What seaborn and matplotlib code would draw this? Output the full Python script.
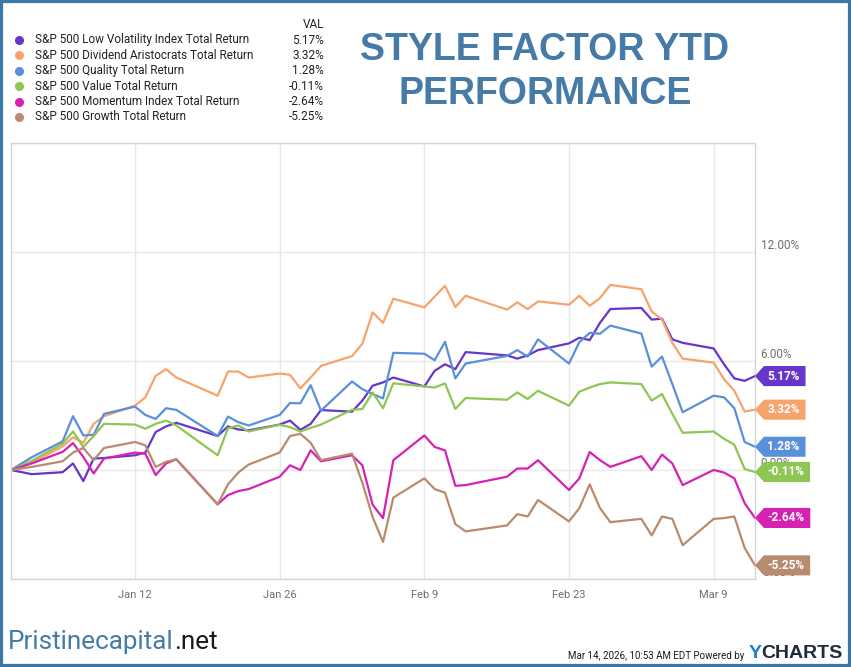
import pandas as pd
import numpy as np
import seaborn as sns
from matplotlib import pyplot as plt
from matplotlib.patches import Rectangle
from matplotlib.lines import Line2D
from matplotlib.path import Path

dates = ['2025-12-31', '2026-01-02', '2026-01-05', '2026-01-06', '2026-01-07', '2026-01-08', '2026-01-09',
         '2026-01-12', '2026-01-13', '2026-01-14', '2026-01-15', '2026-01-16',
         '2026-01-20', '2026-01-21', '2026-01-22', '2026-01-23',
         '2026-01-26', '2026-01-27', '2026-01-28', '2026-01-29', '2026-01-30',
         '2026-02-02', '2026-02-03', '2026-02-04', '2026-02-05', '2026-02-06',
         '2026-02-09', '2026-02-10', '2026-02-11', '2026-02-12', '2026-02-13',
         '2026-02-17', '2026-02-18', '2026-02-19', '2026-02-20',
         '2026-02-23', '2026-02-24', '2026-02-25', '2026-02-26', '2026-02-27',
         '2026-03-02', '2026-03-03', '2026-03-04', '2026-03-05', '2026-03-06',
         '2026-03-09', '2026-03-10', '2026-03-11', '2026-03-12', '2026-03-13']

low_vol = [0, -0.23, -0.12, 0.36, -0.61, 0.63, 0.66,
           0.81, 0.96, 2.09, 2.4, 2.6,
           1.87, 2.4, 2.23, 2.18,
           2.5, 2.72, 2.21, 2.54, 3.3,
           3.21, 3.82, 4.64, 4.82, 5.09,
           4.6, 5.46, 5.82, 5.55, 6.49,
           6.31, 6.13, 6.31, 6.6,
           6.97, 7.28, 7.15, 8.1, 8.86,
           8.92, 8.28, 8.33, 7.19, 7.0,
           6.69, 5.82, 5.04, 4.91, 5.17]

div_aristocrats = [0, 0.4, 1.3, 1.8, 1.5, 2.54, 2.96,
                   3.54, 4.0, 5.18, 5.55, 5.09,
                   4.09, 5.42, 5.42, 5.09,
                   5.31, 5.24, 4.49, 5.09, 5.73,
                   6.27, 6.95, 8.68, 8.1, 9.43,
                   8.95, 9.55, 10.14, 8.97, 9.59,
                   8.83, 9.23, 8.86, 9.28,
                   9.1, 9.59, 9.04, 9.46, 10.19,
                   9.95, 8.73, 8.28, 7.0, 6.13,
                   5.91, 5.0, 4.36, 3.22, 3.32]

quality = [0, 0.7, 1.58, 2.96, 1.9, 1.94, 3.09,
           3.49, 3.03, 2.81, 3.4, 3.31,
           1.87, 2.94, 2.63, 2.45,
           3.03, 3.69, 3.67, 4.67, 3.27,
           4.87, 4.45, 4.18, 3.94, 6.45,
           6.4, 6.04, 7.06, 5.04, 5.86,
           6.28, 6.6, 6.24, 7.19,
           5.86, 7.04, 7.55, 7.5, 7.95,
           7.51, 5.69, 6.24, 4.73, 3.18,
           4.09, 4.0, 3.4, 1.54, 1.28]

value = [0, 0.5, 1.45, 2.12, 1.27, 1.87, 2.54,
         2.5, 2.27, 2.54, 2.72, 2.45,
         0.81, 2.3, 2.45, 2.12,
         2.49, 2.36, 2.12, 2.32, 2.5,
         3.31, 3.36, 4.27, 3.4, 4.77,
         4.6, 4.54, 4.77, 3.36, 3.96,
         3.87, 4.27, 3.91, 4.36,
         3.54, 4.31, 4.54, 4.73, 4.82,
         4.73, 3.82, 4.18, 3.09, 2.05,
         2.12, 1.72, 1.39, 0.05, -0.11]

momentum = [0, 0.36, 1.0, 1.48, 0.72, -0.19, 0.63,
            0.96, 0.9, -0.28, 0.36, 0.59,
            -1.89, -1.38, -1.16, -1.05,
            -0.37, 0.26, 0.0, 1.08, 0.48,
            0.81, 0.26, -1.92, -2.65, 0.54,
            1.9, 1.27, 1.08, -0.87, -0.83,
            -0.37, 0.08, 0.08, 0.54,
            -1.1, -0.46, 0.99, 0.54, 0.17,
            0.76, 0.0, 0.85, 0.36, -0.83,
            0.0, -0.14, -0.46, -1.83, -2.64]

growth = [0, 0.17, 0.48, 0.96, 1.21, 0.54, 1.21,
          1.54, 1.36, 0.17, 0.45, 0.59,
          -1.89, -0.79, -0.14, 0.3,
          0.96, 1.87, 1.99, 1.5, 0.54,
          0.9, -0.7, -2.6, -3.96, -1.52,
          -0.46, -1.05, -1.25, -2.98, -3.38,
          -3.05, -2.43, -2.56, -1.65,
          -2.83, -2.1, -0.79, -2.1, -2.87,
          -2.69, -3.6, -2.56, -2.69, -4.14,
          -2.69, -2.65, -2.56, -4.29, -5.25]

names = ['S&P 500 Low Volatility Index Total Return',
         'S&P 500 Dividend Aristocrats Total Return',
         'S&P 500 Quality Total Return',
         'S&P 500 Value Total Return',
         'S&P 500 Momentum Index Total Return',
         'S&P 500 Growth Total Return']
series = [low_vol, div_aristocrats, quality, value, momentum, growth]
colors = ['#6536c9', '#f8a26c', '#5a8fdb', '#8dc652', '#d622b3', '#b98b6e']

y_ticks = [-6, 0, 6, 12]
y_tick_labels = ['-6.00%', '0.00%', '6.00%', '12.00%']
x_ticks = ['2026-01-12', '2026-01-26', '2026-02-09', '2026-02-23', '2026-03-09']
x_tick_labels = ['Jan 12', 'Jan 26', 'Feb 9', 'Feb 23', 'Mar 9']

TITLE_BLUE = '#467aa7'


def tag_box(x0, y0, width, height, mutation_size):
    # label tag with a left pointing tip
    pad = 0.3 * mutation_size
    x0, y0 = x0 - pad, y0 - pad
    width, height = width + 2.6 * pad, height + 2 * pad
    tip = height * 0.45
    verts = [(x0 - tip, y0 + height / 2), (x0, y0), (x0 + width, y0),
             (x0 + width, y0 + height), (x0, y0 + height), (x0 - tip, y0 + height / 2)]
    return Path(verts, closed=True)


def get_data():
    frames = []
    for name, vals in zip(names, series):
        frames.append(pd.DataFrame({'date': pd.to_datetime(dates), 'ret': vals, 'series': name}))
    return pd.concat(frames, ignore_index=True)


def plot_chart(data):
    sns.set_theme(style='whitegrid')
    plt.rcParams['font.family'] = ['Roboto', 'DejaVu Sans']
    fig = plt.figure(figsize=(8.51, 6.67), dpi=100)
    ax = fig.add_axes([11 / 851, 88 / 667, 744 / 851, 436 / 667])

    sns.lineplot(data=data, x='date', y='ret', hue='series', hue_order=names,
                 palette=colors, linewidth=1.6, ax=ax, legend=False)

    ax.set_xlim(pd.Timestamp(dates[0]), pd.Timestamp(dates[-1]))
    ax.set_ylim(-6, 18)
    ax.set_xlabel('')
    ax.set_ylabel('')
    ax.grid(True, color='#e8e8e8', linewidth=1)
    for sp in ax.spines.values():
        sp.set_color('#d4d4d4')
        sp.set_linewidth(1)

    ax.set_xticks(pd.to_datetime(x_ticks))
    ax.set_xticklabels(x_tick_labels, fontsize=8, color='#6f6f6f')
    ax.tick_params(axis='x', length=0, pad=8)

    ax.yaxis.tick_right()
    ax.set_yticks(y_ticks + [18])
    ax.set_yticklabels(y_tick_labels + [''], fontsize=8.5, color='#6f6f6f')
    ax.tick_params(axis='y', length=0, pad=4)
    for lab in ax.get_yticklabels():
        lab.set_va('bottom')
        lab.set_y(lab.get_position()[1])

    # end-of-line value tags
    for vals, col in zip(series, colors):
        ax.annotate(f'{vals[-1]:.2f}%', xy=(pd.Timestamp(dates[-1]), vals[-1]),
                    xytext=(9, 0), textcoords='offset points', ha='left', va='center',
                    fontsize=8.5, fontweight='bold', color='white', zorder=10,
                    annotation_clip=False,
                    bbox=dict(boxstyle=tag_box, fc=col, ec='none'))

    # legend block
    fig.text(324 / 851, 1 - 24 / 667, 'VAL', ha='right', va='center', fontsize=8.5, color='#222222')
    for i, (name, vals, col) in enumerate(zip(names, series, colors)):
        yy = 1 - (40 + i * 15.4) / 667
        fig.add_artist(Line2D([19 / 851], [yy], marker='o', ms=5.5, color=col, lw=0,
                              transform=fig.transFigure))
        fig.text(35 / 851, yy, name, ha='left', va='center', fontsize=8.5, color='#222222')
        fig.text(324 / 851, yy, f'{vals[-1]:.2f}%', ha='right', va='center', fontsize=8.5, color='#222222')

    fig.text(545 / 851, 1 - 72 / 667, 'STYLE FACTOR YTD\nPERFORMANCE', ha='center', va='center',
             fontsize=27, fontweight='bold', color=TITLE_BLUE, family='Liberation Sans',
             linespacing=1.3)

    # footer
    t1 = fig.text(8 / 851, 1 - 654 / 667, 'Pristinecapital', ha='left', va='bottom',
                  fontsize=18.8, color=TITLE_BLUE)
    ax.annotate('.net', xy=(1, 0), xycoords=t1, ha='left', va='bottom', fontsize=18.8, color='#1a1a1a')

    t_ch = fig.text(843 / 851, 1 - 662 / 667, 'CHARTS', ha='right', va='bottom', fontsize=14,
                    fontweight='bold', color='#1d2b3b', family='Liberation Sans')
    t_y = ax.annotate('Y', xy=(0, 0), xycoords=t_ch, ha='right', va='bottom', fontsize=14,
                      fontweight='bold', color='#1a7fcf', family='Liberation Sans')
    ax.annotate('Mar 14, 2026, 10:53 AM EDT Powered by', xy=(0, 0.08), xycoords=t_y,
                xytext=(-3, 0), textcoords='offset points', ha='right', va='bottom',
                fontsize=7, color='#1a1a1a')

    fig.add_artist(Rectangle((0, 0), 1, 1, transform=fig.transFigure, fill=False,
                             ec='#3b78a6', lw=4.5))
    fig.savefig('out.png', dpi=100, facecolor='white')


if __name__ == '__main__':
    data = get_data()
    plot_chart(data)
